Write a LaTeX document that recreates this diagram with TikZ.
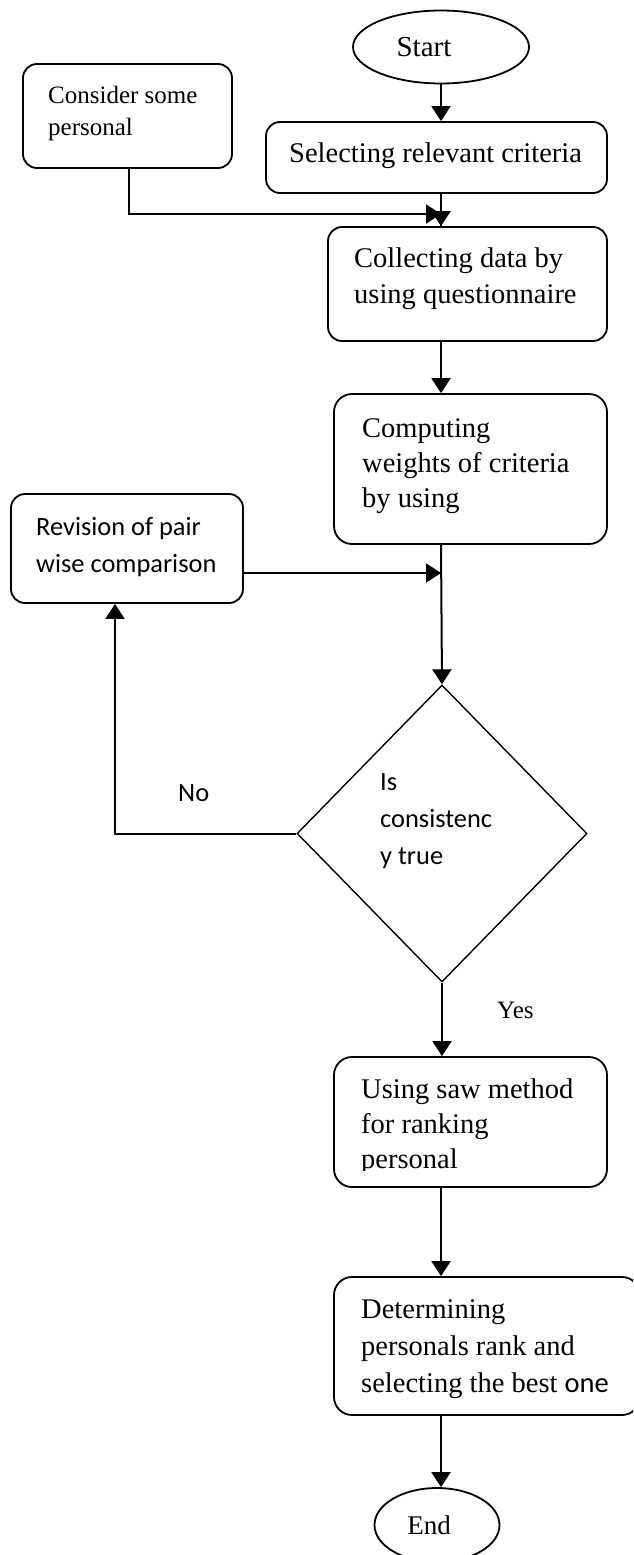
\documentclass[tikz,border=0pt]{standalone}
\usepackage{fontspec}
\setmainfont{Liberation Serif}
\newfontfamily\calib{Carlito}
\usetikzlibrary{shapes.geometric,arrows.meta}
\tikzset{
  box/.style={draw, rounded corners=14pt, line width=1.8pt, inner sep=0pt},
  oval/.style={draw, ellipse, line width=1.8pt, inner sep=0pt, font=\fontsize{29pt}{34pt}\selectfont},
  txt/.style={anchor=base west, inner sep=0pt, font=\fontsize{28.5pt}{36pt}\selectfont},
  smalltxt/.style={anchor=base west, inner sep=0pt, font=\fontsize{25pt}{32pt}\selectfont},
  sanstxt/.style={anchor=base west, inner sep=0pt, font=\calib\fontsize{26.4pt}{37pt}\selectfont},
  arr/.style={line width=2pt, -{Triangle[length=15pt,width=19pt]}},
  plain/.style={line width=2pt}
}
\begin{document}
\begin{tikzpicture}[x=1pt,y=-1pt]
\useasboundingbox (0,0) rectangle (633,1555);
\clip (0,0) rectangle (633,1555);
% nodes
\node[oval, minimum width=176pt, minimum height=73pt] (start) at (441,47) {Start\hspace*{34pt}};
\node[box, minimum width=341pt, minimum height=71pt] (sel) at (436.5,157.5) {};
\node[txt] (selT) at (289,162) {Selecting relevant criteria};
\node[box, minimum width=209pt, minimum height=104pt] (cons) at (127.5,116) {};
\node[smalltxt] (consT) at (48,103) {\vtop{\baselineskip=32pt\hbox{Consider some}\hbox{personal}}};
\node[box, minimum width=279pt, minimum height=114pt] (col) at (467.5,284) {};
\node[txt] (colT) at (354,267) {\vtop{\baselineskip=36pt\hbox{Collecting data by}\hbox{using questionnaire}}};
\node[box, rounded corners=18pt, minimum width=273pt, minimum height=150pt] (comp) at (470.5,469) {};
\node[txt] (compT) at (362,437) {\vtop{\baselineskip=35pt\hbox{Computing}\hbox{weights of criteria}\hbox{by using}}};
\node[box, minimum width=232pt, minimum height=109pt] (rev) at (127,548.5) {};
\node[sanstxt] (revT) at (36,535) {\vtop{\baselineskip=37pt\hbox{Revision of pair}\hbox{wise comparison}}};
\node[draw, diamond, line width=1.4pt, inner sep=0pt, shape aspect=0.98, minimum width=290pt, minimum height=297pt] (dia) at (442,833.5) {};
\node[sanstxt] (diaT) at (380,790) {\vtop{\baselineskip=37pt\hbox{Is}\hbox{consistenc}\hbox{y true}}};
\node[sanstxt] (no) at (178,801) {No};
\node[anchor=base west, inner sep=0pt, font=\fontsize{25pt}{30pt}\selectfont] (yes) at (497,1018) {Yes};
\node[box, rounded corners=18pt, minimum width=273pt, minimum height=130pt] (use) at (470.5,1122) {};
\begin{scope}
\clip (0,0) rectangle (633,1170);
\node[txt] (useT) at (361,1098) {\vtop{\baselineskip=35pt\hbox{Using saw method}\hbox{for ranking}\hbox{personal}}};
\end{scope}
\node[box, rounded corners=18pt, minimum width=306pt, minimum height=138pt] (det) at (487,1346) {};
\node[txt] (detT) at (361,1318) {\vtop{\baselineskip=37pt\hbox{Determining}\hbox{personals rank and}\hbox{selecting the best {\calib one}}}};
\node[oval, font=\fontsize{27pt}{32pt}\selectfont, minimum width=125pt, minimum height=74pt] (end) at (437,1525) {End\hspace*{16pt}};
% connectors
\coordinate (j1) at (441,214);
\draw[arr] (start.south -| j1) -- (sel.north -| j1);
\draw[plain] (sel.south -| j1) -- (col.north -| j1);
\draw[arr] (j1) -- (col.north -| j1);
\draw[arr] ([xshift=1.5pt]cons.south) |- (j1);
\draw[arr] (col.south -| j1) -- (comp.north -| j1);
\draw[arr] (comp.south -| j1) -- (dia.north);
\draw[arr] ([yshift=-24.5pt]rev.east) -- ([yshift=-24.5pt]rev.east -| j1);
\draw[arr] (dia.west) -| ([xshift=-12pt]rev.south);
\draw[arr] (dia.south) -- (use.north -| dia.south);
\draw[arr] (use.south -| j1) -- (det.north -| j1);
\draw[arr] (det.south -| j1) -- (end.north -| j1);
\end{tikzpicture}
\end{document}
